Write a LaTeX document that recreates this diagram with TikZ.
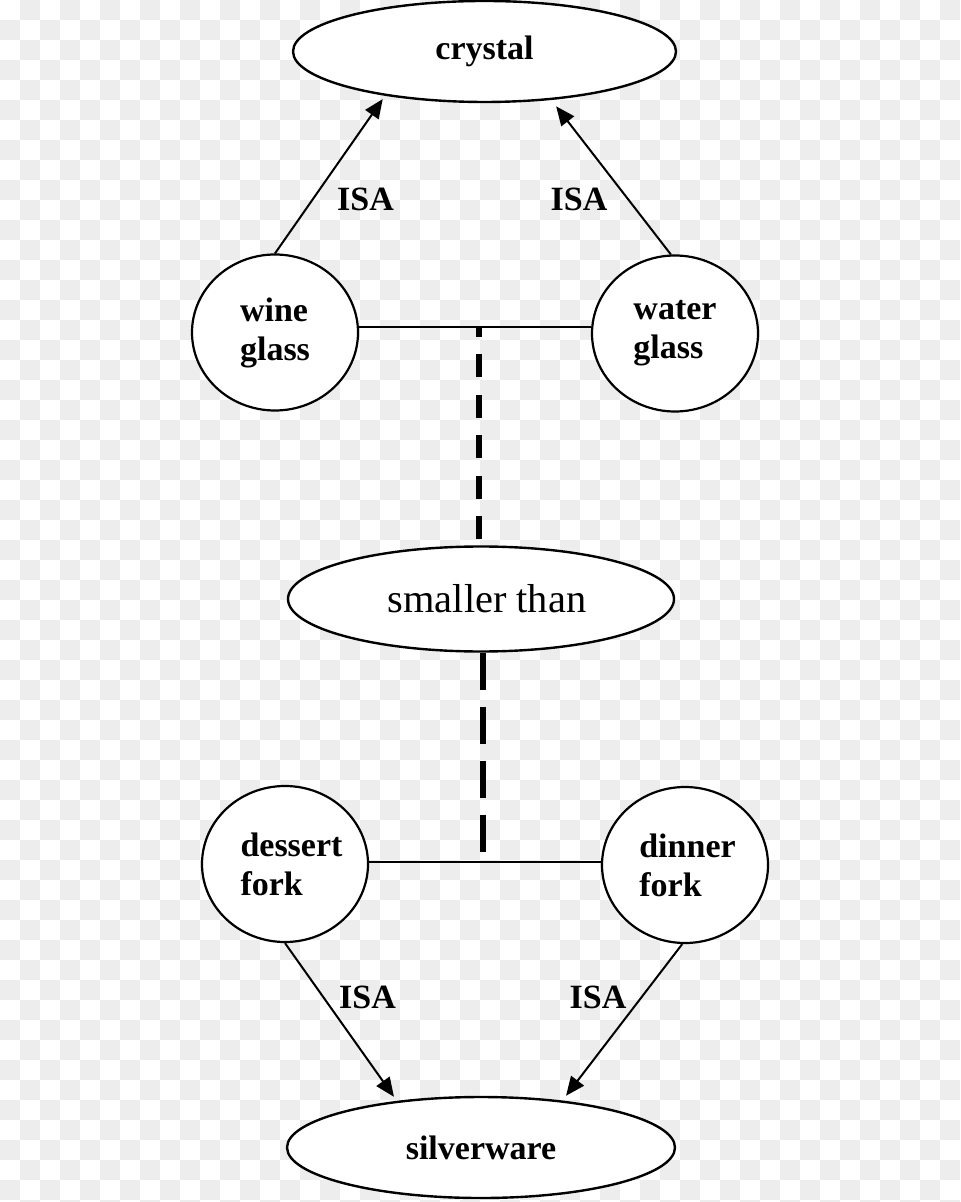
\documentclass[tikz,border=0pt]{standalone}
\usepackage{fontspec}
\setmainfont{Liberation Serif}
\usetikzlibrary{shapes.geometric,arrows.meta}
\definecolor{chk}{HTML}{EDEDED}
\begin{document}
\begin{tikzpicture}[x=0.5pt,y=-0.5pt,
  ell/.style={ellipse,draw,line width=1.2pt,fill=white,inner sep=0pt,font=\fontsize{17}{20}\selectfont\bfseries},
  circ/.style={ellipse,draw,line width=1.1pt,fill=white,minimum width=83pt,minimum height=78pt,inner sep=0pt,align=left,font=\fontsize{17}{19.5}\selectfont\bfseries},
  isa/.style={-{Triangle[length=9.5pt,width=8pt]},line width=1pt},
  lbl/.style={font=\fontsize{17}{20}\selectfont\bfseries,inner sep=0pt},
  link/.style={line width=1pt},
  dshup/.style={line width=3pt,dash pattern=on 11.5pt off 8.75pt,dash phase=17.25pt},
  dshdown/.style={line width=3pt,dash pattern=on 18.5pt off 8.5pt}]
\useasboundingbox (0,0) rectangle (960,1202);
\begin{scope}
\clip (0,0) rectangle (960,1202);
\foreach \j in {0,...,60}{
  \pgfmathtruncatemacro\s{mod(\j+1,2)}
  \foreach \k in {0,...,23}{
    \fill[chk] ({(2*\k+\s)*20},{\j*20}) rectangle ++(20,20);
  }
}
\end{scope}
% nodes
\node[ell,minimum width=191.5pt,minimum height=50.5pt] (crystal) at (484.5,51.5) {crystal};
\node[ell,minimum width=193pt,minimum height=52.5pt,font=\fontsize{20.2}{24}\selectfont] (smaller) at (481,599) {\hspace{6pt}smaller than};
\node[ell,minimum width=194pt,minimum height=50.5pt] (silver) at (481,1147.5) {silverware};
\node[circ] (wine) at (275,332.5) {wine\\glass};
\node[circ] (water) at (675,333.5) {water\\glass};
\node[circ] (dessert) at (285,864) {\hspace*{6.5pt}dessert\\\hspace*{6.5pt}fork};
\node[circ] (dinner) at (685,865) {\hspace*{2.5pt}dinner\\\hspace*{2.5pt}fork};
% junctions
\coordinate (j1) at (478.5,327);
\coordinate (j2) at (483,862);
\draw[link] (j1 -| wine.east) -- (j1 -| water.west);
\draw[dshup] (smaller.north -| j1) -- (j1);
\draw[link] (j2 -| dessert.east) -- (j2 -| dinner.west);
\draw[dshdown] (smaller.south -| j2) -- (j2);
% ISA arrows
\draw[isa,shorten >=2pt] (wine.north) -- (crystal.-156);
\draw[isa,shorten >=4pt] (water.93) -- (crystal.-36);
\draw[isa,shorten >=2.5pt] (dessert.south) -- (silver.151);
\draw[isa,shorten >=3pt] (dinner.-92) -- (silver.30);
% labels
\node[lbl] (isa1) at (365.5,199) {ISA};
\node[lbl] (isa2) at (579,199) {ISA};
\node[lbl] (isa3) at (367.5,997) {ISA};
\node[lbl] (isa4) at (598,997) {ISA};
\end{tikzpicture}
\end{document}
